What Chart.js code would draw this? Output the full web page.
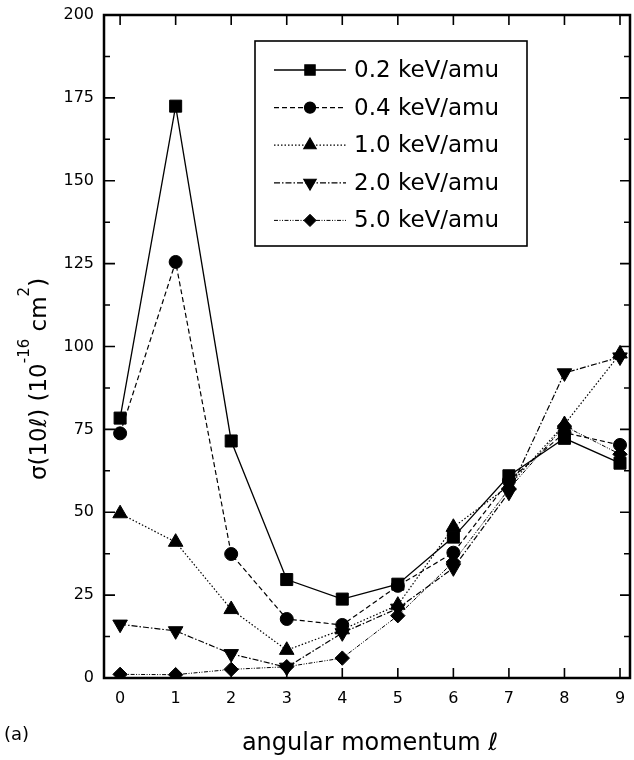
<!DOCTYPE html>
<html>
<head>
<meta charset="utf-8">
<script src="https://cdn.jsdelivr.net/npm/chart.js@4/dist/chart.umd.min.js"></script>
<style>
  html, body { margin:0; padding:0; background:#fff; }
  #wrap { width:634px; height:760px; position:relative; }
</style>
</head>
<body>
<div id="wrap"><canvas id="c" width="634" height="760"></canvas></div>
<script>
// valores
const lValues = [0,1,2,3,4,5,6,7,8,9];
const xTicks = [0,1,2,3,4,5,6,7,8,9];
const yTicks = [0,25,50,75,100,125,150,175,200];
const energias = ["0.2 keV/amu","0.4 keV/amu","1.0 keV/amu","2.0 keV/amu","5.0 keV/amu"];
const sigma02 = [78.4,172.5,71.5,29.7,23.8,28.3,42.5,61.0,72.3,64.8];
const sigma04 = [73.8,125.5,37.4,17.8,16.0,27.8,37.8,59.5,74.0,70.3];
const sigma10 = [49.6,41.0,20.7,8.4,14.6,22.0,45.5,58.0,76.5,97.8];
const sigma20 = [16.2,14.2,7.3,3.2,13.6,21.0,33.2,56.0,92.0,96.8];
const sigma50 = [1.1,1.0,2.6,3.4,6.0,18.8,35.0,57.0,76.0,67.5];

const FONT = "'DejaVu Sans', 'Liberation Sans', sans-serif";

function pts(arr){ return arr.map((v,i) => ({x:lValues[i], y:v})); }

function serie(label, data, style, rot, radius, dash, width){
  return {
    label, data: pts(data),
    borderColor:'#000', backgroundColor:'#000',
    borderWidth: width, borderDash: dash,
    pointStyle: style, pointRotation: rot, pointRadius: radius,
    pointBorderWidth: 1, pointBorderColor:'#000', pointBackgroundColor:'#000',
    tension: 0
  };
}

const datasets = [
  serie(energias[0], sigma02, 'rect', 0, 8.5, [], 1.3),
  serie(energias[1], sigma04, 'circle', 0, 6.5, [5,3], 1.2),
  serie(energias[2], sigma10, 'triangle', 0, 8.4, [1.5,2], 1.2),
  serie(energias[3], sigma20, 'triangle', 180, 8.4, [6,2,1.5,2], 1.2),
  serie(energias[4], sigma50, 'rectRot', 0, 7.2, [4,1.5,1,1.5,1,1.5], 1.0)
];

// moldura, ticks internos, legenda e titulos
const extras = {
  id:'extras',
  afterDraw(chart){
    const ctx = chart.ctx;
    const a = chart.chartArea;
    const xs = chart.scales.x, ys = chart.scales.y;
    ctx.save();
    ctx.strokeStyle = '#000';
    ctx.setLineDash([]);

    // ticks
    ctx.lineWidth = 1.6;
    ctx.beginPath();
    xTicks.forEach(v => {
      const px = xs.getPixelForValue(v);
      ctx.moveTo(px, a.bottom); ctx.lineTo(px, a.bottom - 10);
      ctx.moveTo(px, a.top); ctx.lineTo(px, a.top + 10);
    });
    yTicks.forEach((v,i) => {
      const py = ys.getPixelForValue(v);
      ctx.moveTo(a.left, py); ctx.lineTo(a.left + 11, py);
      ctx.moveTo(a.right, py); ctx.lineTo(a.right - 10, py);
      if (i < yTicks.length - 1) {
        const pm = ys.getPixelForValue((v + yTicks[i+1]) / 2);
        ctx.moveTo(a.left, pm); ctx.lineTo(a.left + 6, pm);
        ctx.moveTo(a.right, pm); ctx.lineTo(a.right - 6, pm);
      }
    });
    ctx.stroke();

    // moldura
    ctx.lineWidth = 2.5;
    ctx.strokeRect(a.left, a.top, a.right - a.left, a.bottom - a.top);

    // legenda
    const bx = 255, by = 41, bw = 272, bh = 205;
    ctx.fillStyle = '#fff';
    ctx.fillRect(bx, by, bw, bh);
    ctx.lineWidth = 1.6;
    ctx.strokeRect(bx, by, bw, bh);
    ctx.font = '23px ' + FONT;
    ctx.textBaseline = 'middle';
    ctx.textAlign = 'left';
    chart.data.datasets.forEach((ds, i) => {
      const y = 70 + i * 37.6;
      ctx.strokeStyle = '#000';
      ctx.lineWidth = ds.borderWidth;
      ctx.setLineDash(ds.borderDash);
      ctx.beginPath(); ctx.moveTo(274, y); ctx.lineTo(346, y); ctx.stroke();
      ctx.setLineDash([]);
      ctx.fillStyle = '#000';
      if (Chart.helpers && Chart.helpers.drawPoint) {
        Chart.helpers.drawPoint(ctx, {
          pointStyle: ds.pointStyle, rotation: ds.pointRotation,
          radius: ds.pointRadius * 0.85, borderWidth: 1
        }, 310, y);
      } else {
        ctx.beginPath(); ctx.arc(310, y, 5, 0, Math.PI*2); ctx.fill();
      }
      ctx.fillStyle = '#000';
      ctx.fillText(ds.label, 354, y + 1);
    });

    // titulo eixo x
    ctx.fillStyle = '#000';
    ctx.textAlign = 'center';
    ctx.textBaseline = 'alphabetic';
    ctx.font = '24px ' + FONT;
    ctx.fillText('angular momentum \u2113', 370, 750);

    // (a)
    ctx.textAlign = 'left';
    ctx.font = '18px ' + FONT;
    ctx.fillText('(a)', 4, 740);

    // titulo eixo y com sobrescritos
    const parts = [
      {t:'\u03c3(10\u2113) (10', sup:false},
      {t:'-16', sup:true},
      {t:' cm', sup:false},
      {t:'2', sup:true},
      {t:')', sup:false}
    ];
    const fMain = '23px ' + FONT, fSup = '15px ' + FONT;
    let total = 0;
    parts.forEach(p => { ctx.font = p.sup ? fSup : fMain; p.w = ctx.measureText(p.t).width; total += p.w; });
    ctx.translate(46, 379);
    ctx.rotate(-Math.PI / 2);
    let u = -total / 2;
    parts.forEach(p => {
      ctx.font = p.sup ? fSup : fMain;
      ctx.fillText(p.t, u, p.sup ? -17 : 0);
      u += p.w;
    });
    ctx.restore();
  }
};

new Chart(document.getElementById('c').getContext('2d'), {
  type: 'line',
  data: { datasets },
  options: {
    responsive: false,
    animation: false,
    layout: { autoPadding: false, padding: { top: 15, right: 4, left: 0, bottom: 0 } },
    plugins: { legend: { display: false }, tooltip: { enabled: false } },
    scales: {
      x: {
        type: 'linear', min: -0.29, max: 9.18,
        afterBuildTicks: s => { s.ticks = xTicks.map(v => ({ value: v })); },
        afterFit: s => { s.height = 82; s.paddingLeft = 0; s.paddingRight = 0; },
        grid: { display: false, drawTicks: false },
        border: { display: false },
        ticks: { color: '#000', font: { family: FONT, size: 16 }, padding: 11, maxRotation: 0, autoSkip: false }
      },
      y: {
        min: 0, max: 200,
        afterBuildTicks: s => { s.ticks = yTicks.map(v => ({ value: v })); },
        afterFit: s => { s.width = 104; s.paddingTop = 0; s.paddingBottom = 0; },
        grid: { display: false, drawTicks: false },
        border: { display: false },
        ticks: { color: '#000', font: { family: FONT, size: 16 }, padding: 10 }
      }
    }
  },
  plugins: [extras]
});
</script>
</body>
</html>
